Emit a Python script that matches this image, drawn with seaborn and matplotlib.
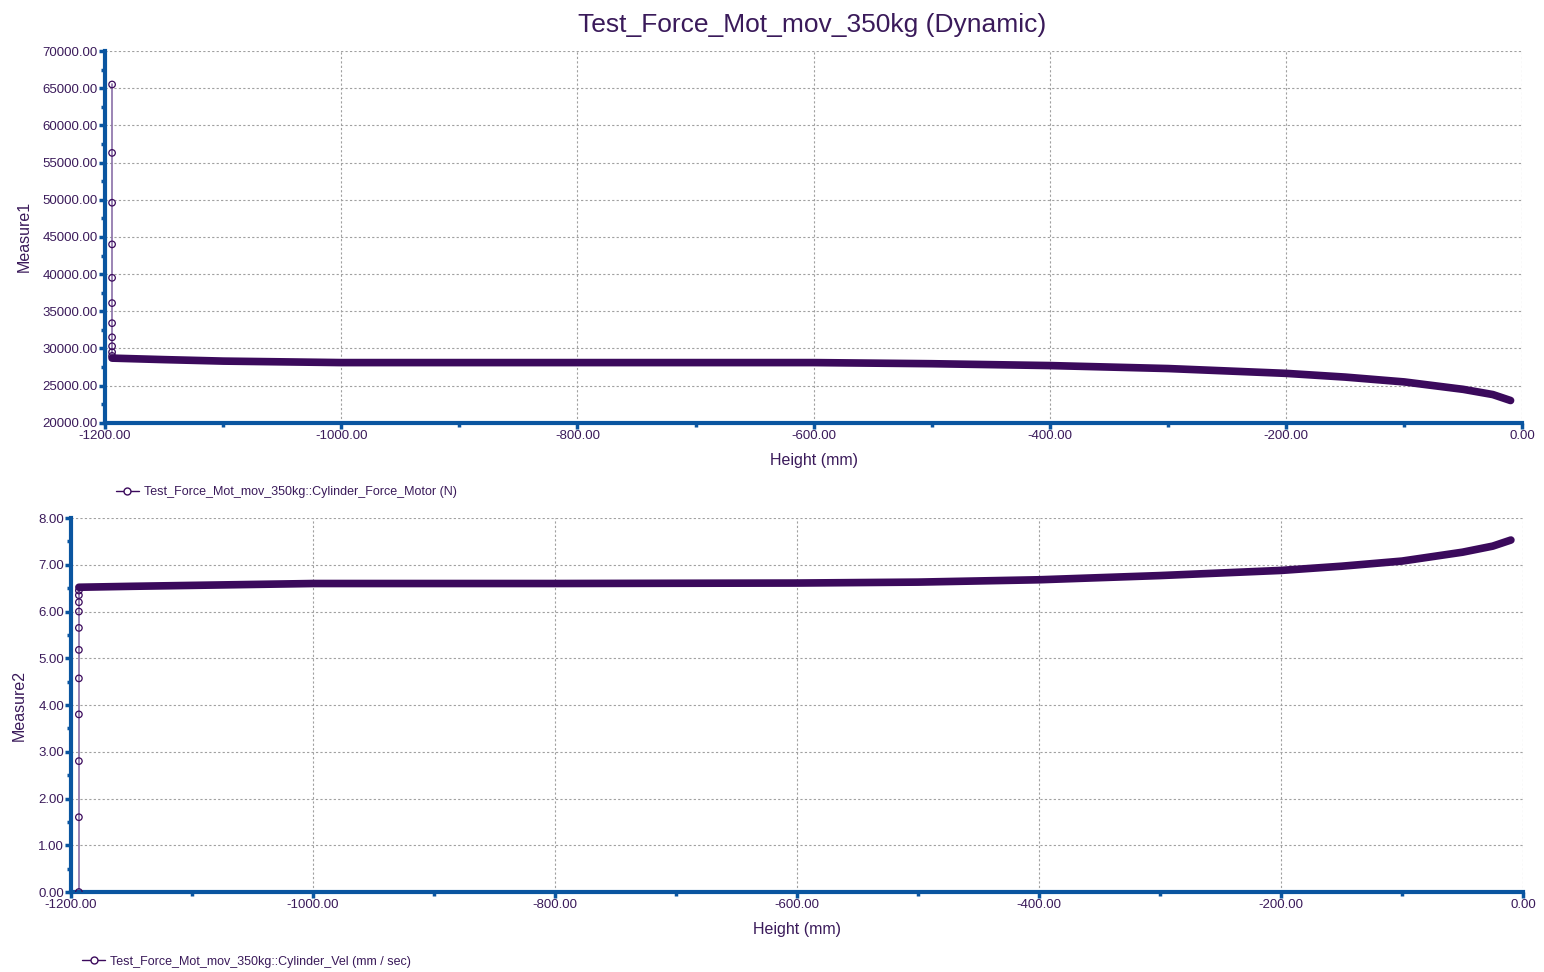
import matplotlib
matplotlib.use("Agg")
import matplotlib.pyplot as plt
import seaborn as sns
import pandas as pd
from matplotlib.lines import Line2D
from matplotlib.ticker import MultipleLocator, FormatStrFormatter

# ---- data ----
force_spike_x = [-1194.0] * 11
force_spike_y = [65500, 56300, 49600, 44000, 39500, 36100, 33400, 31500, 30300, 29500, 29000]
force_curve_x = [-1194, -1150, -1100, -1000, -800, -600, -500, -400, -300, -200, -150, -100, -50, -25, -10]
force_curve_y = [28700, 28500, 28300, 28100, 28100, 28100, 27950, 27700, 27300, 26650, 26150, 25500, 24500, 23800, 23000]

vel_spike_x = [-1193.5] * 11
vel_spike_y = [0.0, 1.6, 2.8, 3.8, 4.57, 5.18, 5.65, 6.0, 6.2, 6.35, 6.45]
vel_curve_x = [-1193.5, -1150, -1100, -1000, -800, -600, -500, -400, -300, -200, -150, -100, -50, -25, -10]
vel_curve_y = [6.52, 6.54, 6.56, 6.6, 6.6, 6.61, 6.63, 6.68, 6.77, 6.88, 6.97, 7.08, 7.27, 7.4, 7.53]

title = "Test_Force_Mot_mov_350kg (Dynamic)"
leg1 = "Test_Force_Mot_mov_350kg::Cylinder_Force_Motor (N)"
leg2 = "Test_Force_Mot_mov_350kg::Cylinder_Vel (mm / sec)"

sns.set_theme(style="white")
plt.rcParams['font.family'] = ['Liberation Sans', 'DejaVu Sans']

PURPLE = "#3b0a5c"
TXT = "#3a1a5a"
BLUE = "#0a55a0"

fig = plt.figure(figsize=(15.44, 9.72), dpi=100)
ax1 = fig.add_axes([0.068, 0.565, 0.918, 0.3825])
ax2 = fig.add_axes([0.046, 0.0823, 0.9404, 0.3847])

def style(ax, ylim, major, minor, ylabel, legtext, legpos):
    ax.set_xlim(-1200, 0)
    ax.set_ylim(*ylim)
    ax.xaxis.set_major_locator(MultipleLocator(200))
    ax.xaxis.set_minor_locator(MultipleLocator(100))
    ax.yaxis.set_major_locator(MultipleLocator(major))
    ax.yaxis.set_minor_locator(MultipleLocator(minor))
    ax.xaxis.set_major_formatter(FormatStrFormatter('%.2f'))
    ax.yaxis.set_major_formatter(FormatStrFormatter('%.2f'))
    ax.grid(True, which='major', linestyle=(0, (2, 2)), color='#a0a0a0', linewidth=0.8)
    for s in ['top', 'right']:
        ax.spines[s].set_visible(False)
    for s in ['left', 'bottom']:
        ax.spines[s].set_color(BLUE)
        ax.spines[s].set_linewidth(3)
    ax.tick_params(axis='both', which='major', direction='out', length=4, width=2.5,
                   color=BLUE, labelsize=9.5, labelcolor=TXT, pad=1)
    ax.tick_params(axis='both', which='minor', direction='out', length=3, width=2.5, color=BLUE)
    ax.tick_params(axis='both', which='both', left=True, bottom=True)
    ax.set_xlabel("Height (mm)", fontsize=11.5, color=TXT, labelpad=8)
    ax.set_ylabel(ylabel, fontsize=11.5, color=TXT)
    h = Line2D([], [], color=PURPLE, marker='o', markerfacecolor='white', markersize=5, linewidth=1)
    ax.legend([h], [legtext], loc='upper left', bbox_to_anchor=legpos, frameon=False,
              fontsize=9, labelcolor=TXT, handlelength=1.8, handletextpad=0.4)

for ax, sx, sy, cx, cy in [(ax1, force_spike_x, force_spike_y, force_curve_x, force_curve_y),
                           (ax2, vel_spike_x, vel_spike_y, vel_curve_x, vel_curve_y)]:
    sns.lineplot(x=sx + [cx[0]], y=sy + [cy[0]], ax=ax, color="#8a70a8", linewidth=1.2,
                 sort=False, estimator=None)
    sns.scatterplot(x=sx, y=sy, ax=ax, s=22, facecolor='none', edgecolor=PURPLE, linewidth=0.9, zorder=5)
    sns.lineplot(x=cx, y=cy, ax=ax, color=PURPLE, linewidth=5.5, sort=False, estimator=None,
                 solid_capstyle='round', zorder=4)

style(ax1, (20000, 70000), 5000, 2500, "Measure1", leg1, (0.0, -0.14))
style(ax2, (0, 8), 1, 0.5, "Measure2", leg2, (0.0, -0.14))
ax1.yaxis.labelpad = 8
ax2.yaxis.labelpad = 8

fig.text(0.526, 0.974, title, fontsize=19, color=TXT, ha='center', va='center')
fig.savefig("out.png", dpi=100, facecolor='white')
